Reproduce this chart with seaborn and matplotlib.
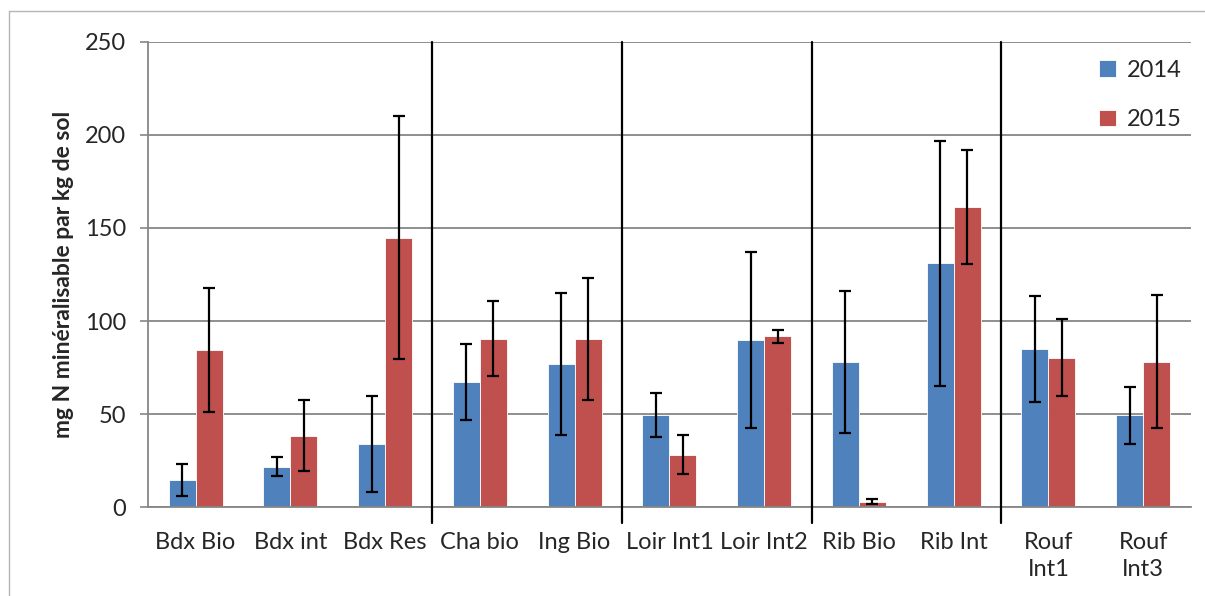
import numpy as np
import pandas as pd
import matplotlib
matplotlib.use("Agg")
import matplotlib.pyplot as plt
import seaborn as sns
from matplotlib.lines import Line2D

# values
sites = ["Bdx Bio", "Bdx int", "Bdx Res", "Cha bio", "Ing Bio", "Loir Int1",
         "Loir Int2", "Rib Bio", "Rib Int", "Rouf\nInt1", "Rouf\nInt3"]
years = ["2014", "2015"]
mean_2014 = [14.5, 21.7, 33.8, 67.2, 77.0, 49.5, 89.7, 77.8, 131.0, 85.0, 49.3]
err_2014 = [8.5, 5.2, 25.8, 20.6, 38.0, 11.6, 47.3, 38.2, 65.8, 28.5, 15.2]
mean_2015 = [84.3, 38.5, 144.8, 90.6, 90.5, 28.1, 91.7, 3.0, 161.2, 80.3, 78.2]
err_2015 = [33.3, 19.3, 65.2, 20.3, 32.7, 10.5, 3.4, 1.2, 30.8, 20.6, 35.9]
group_breaks = [2.5, 4.5, 6.5, 8.5]
colors = ["#4F81BD", "#C0504D"]

df = pd.DataFrame({
    "site": sites * 2,
    "year": [years[0]] * len(sites) + [years[1]] * len(sites),
    "value": mean_2014 + mean_2015,
})

sns.set_style("white")
plt.rcParams["font.family"] = ["Lato", "DejaVu Sans"]

fig = plt.figure(figsize=(12.05, 5.96), dpi=100)
ax = fig.add_axes([0.123, 0.149, 0.865, 0.781])

sns.barplot(data=df, x="site", y="value", hue="year", palette=colors,
            width=0.57, saturation=1, errorbar=None, edgecolor="white",
            linewidth=0.6, ax=ax)

# error bars on the bar centres
for cont, errs in zip(ax.containers, [err_2014, err_2015]):
    xs = [p.get_x() + p.get_width() / 2 for p in cont]
    hs = [p.get_height() for p in cont]
    ax.errorbar(xs, hs, yerr=errs, fmt="none", ecolor="black",
                elinewidth=1.6, capsize=4.5, capthick=1.6, zorder=4)

# group separators
for b in group_breaks:
    ax.axvline(b, ymin=-0.035, ymax=1, color="black", lw=1.6,
               clip_on=False, zorder=5)

ax.set_xlim(-0.5, len(sites) - 0.5)
ax.set_ylim(0, 250)
ax.set_yticks(np.arange(0, 251, 50))
ax.yaxis.grid(True, color="#868686", lw=1.3)
ax.set_axisbelow(True)

ax.set_xticks(np.arange(-0.5, len(sites), 1), minor=True)
ax.tick_params(axis="x", which="major", length=0, pad=18, labelsize=17)
ax.tick_params(axis="x", which="minor", length=6, width=1.2, color="#868686")
ax.tick_params(axis="y", which="major", length=6, width=1.2, color="#868686",
               labelsize=17, left=True, pad=10)
for lab in ax.get_xticklabels():
    lab.set_linespacing(1.35)

for s in ["top", "right"]:
    ax.spines[s].set_visible(False)
for s in ["left", "bottom"]:
    ax.spines[s].set_color("#868686")
    ax.spines[s].set_linewidth(1.3)

ax.set_xlabel("")
ax.set_ylabel("mg N minéralisable par kg de sol", fontsize=16.5,
              fontweight="bold", labelpad=8)

ax.legend(frameon=False, loc="upper right", bbox_to_anchor=(0.998, 0.935),
          bbox_transform=fig.transFigure, fontsize=17, handlelength=0.7,
          handleheight=0.7, handletextpad=0.45, labelspacing=1.2)

# light frame around the chart
fig.add_artist(Line2D([0.0075, 0.0075], [0, 0.982], color="#b5b5b5", lw=1))
fig.add_artist(Line2D([0.0075, 1], [0.982, 0.982], color="#b5b5b5", lw=1))

fig.savefig("out.png", dpi=100)
plt.close(fig)
